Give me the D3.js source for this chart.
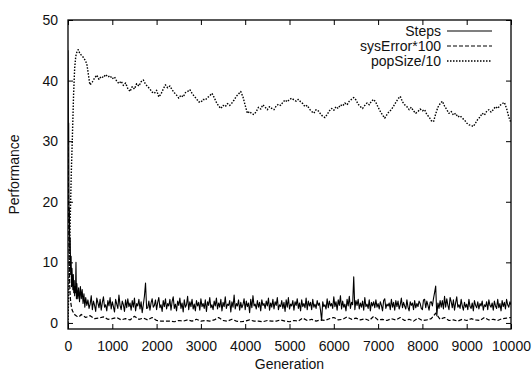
<!DOCTYPE html>
<html>
<head>
<meta charset="utf-8">
<script src="https://cdn.jsdelivr.net/npm/d3@7"></script>
<style>
  body { margin: 0; background: #fff; }
  text { font-family: "Liberation Sans", Arial, sans-serif; fill: #111; }
</style>
</head>
<body>
<div id="chart"></div>
<script>
// tick labels
const xTicks = [0, 1000, 2000, 3000, 4000, 5000, 6000, 7000, 8000, 9000, 10000]
const yTicks = [0, 10, 20, 30, 40, 50]

// Steps: dense start, then every 25 generations from 450
const stepsEarlyGen = [0, 5, 10, 15, 20, 25, 30, 40, 50, 60, 70, 80, 90, 100, 110, 120, 130, 140, 150, 160, 170, 180, 190, 200, 220, 240, 260, 280, 300, 320, 340, 360, 380, 400, 425]
const stepsEarly = [45, 38, 30, 33, 22, 17, 19, 12, 14, 8, 11, 6, 9, 7, 5.5, 8, 5, 7, 4.5, 6, 5, 10, 4, 6.5, 4, 5.8, 3.5, 6, 4, 5.5, 3.2, 4.8, 2.6, 4.2, 2.9]
const steps = [
  3.8, 2.4, 3.1, 4.5, 2.2, 3.6, 2.9, 1.9, 4.1, 3.3, 2.5, 3.9, 2.1, 3.4, 4.3, 2.6, 3.0, 2.0, 3.7, 2.8,
  4.2, 2.3, 3.5, 2.7, 1.8, 3.9, 3.1, 2.4, 4.6, 2.9, 2.2, 3.6, 3.0, 1.9, 3.8, 2.5, 4.0, 2.7, 3.3, 2.1,
  3.7, 2.6, 4.1, 2.0, 3.2, 2.8, 3.9, 2.3, 3.5, 1.7, 3.0, 4.4, 6.6, 2.4, 2.5, 3.6, 2.1, 3.3, 4.0, 2.6,
  2.9, 3.8, 2.2, 3.4, 4.2, 2.5, 3.0, 1.9, 3.7, 2.7, 4.0, 2.3, 3.2, 2.8, 3.9, 2.1, 3.5, 4.3, 2.4, 3.1,
  2.0, 3.6, 2.9, 4.1, 2.4, 3.3, 1.8, 3.8, 2.6, 3.0, 4.4, 2.2, 3.5, 2.7, 3.9, 2.3, 3.1, 2.0, 3.7, 2.8,
  3.4, 2.1, 4.0, 2.7, 3.2, 2.4, 3.8, 1.9, 3.5, 2.9, 4.2, 2.5, 3.0, 2.2, 3.6, 2.8, 4.1, 2.3, 3.3, 2.6,
  3.9, 2.0, 3.4, 2.7, 4.3, 2.4, 3.1, 2.9, 3.7, 1.8, 3.5, 2.6, 4.6, 2.3, 3.2, 2.8, 3.8, 2.1, 3.4, 2.5,
  3.0, 4.0, 2.2, 3.6, 2.7, 3.3, 1.7, 3.9, 2.5, 4.5, 2.8, 3.1, 2.3, 3.7, 2.6, 3.4, 2.0, 3.8, 2.9, 3.2,
  2.4, 3.6, 2.8, 4.1, 2.1, 3.3, 2.6, 3.9, 2.3, 3.5, 2.9, 4.2, 2.2, 3.0, 2.7, 3.7, 2.4, 3.4, 1.9, 3.8,
  2.6, 4.2, 2.3, 3.1, 2.8, 3.7, 2.1, 3.5, 2.9, 4.0, 2.4, 3.3, 2.0, 3.8, 2.7, 3.2, 2.5, 4.1, 2.2, 3.6,
  2.8, 3.4, 2.2, 3.9, 2.6, 3.1, 2.4, 3.7, 2.9, 3.3, 2.1, 0.4, 3.5, 2.7, 3.0, 2.3, 4.0, 2.5, 3.6, 2.8,
  3.2, 2.4, 4.3, 2.7, 3.5, 2.1, 3.8, 2.9, 4.5, 2.3, 3.6, 2.6, 3.1, 2.0, 3.9, 2.8, 4.4, 2.4, 3.4, 3.0,
  7.6, 2.2, 3.7, 2.9, 3.9, 2.3, 3.3, 2.6, 3.6, 2.1, 4.2, 2.7, 3.1, 2.4, 3.8, 2.0, 3.4, 2.8, 3.5, 2.5,
  3.8, 2.6, 3.2, 2.3, 3.5, 2.9, 2.0, 3.7, 4.0, 2.4, 3.1, 2.8, 3.3, 2.2, 3.9, 2.6, 3.4, 2.1, 3.7, 2.7,
  3.6, 2.3, 3.0, 4.1, 2.5, 3.4, 2.8, 2.3, 3.8, 2.6, 2.0, 3.5, 2.9, 3.3, 2.2, 3.7, 2.5, 3.2, 2.7, 3.6,
  3.2, 2.4, 2.2, 3.8, 3.9, 2.5, 3.6, 2.9, 2.1, 3.4, 3.5, 2.8, 4.0, 5.0, 6.1, 1.2, 3.3, 2.4, 3.7, 2.6,
  3.7, 2.3, 4.4, 2.6, 4.0, 2.9, 2.2, 4.2, 3.5, 2.5, 3.8, 2.1, 3.3, 4.3, 2.6, 3.0, 2.4, 3.9, 2.8, 2.1,
  3.4, 2.6, 3.1, 2.2, 3.9, 2.7, 2.4, 3.3, 2.0, 3.7, 2.9, 2.5, 3.5, 2.3, 3.2, 2.8, 3.6, 2.1, 3.0, 2.7,
  3.5, 2.2, 3.8, 2.9, 2.6, 3.3, 2.1, 3.6, 2.8, 2.4, 3.9, 2.5, 3.2, 2.0, 3.7, 2.7, 3.4, 2.3, 3.9, 3.0,
  2.6, 3.5, 3.0
]

// sysError*100: dense start, then every 100 generations from 300
const errEarlyGen = [0, 10, 20, 30, 40, 50, 60, 80, 100, 130, 160, 200, 250]
const errEarly = [33, 22, 14, 9, 6, 4.5, 3.5, 2.5, 2.0, 1.6, 1.3, 1.1, 1.0]
const sysError = [
  1.4, 0.9, 1.2, 0.7, 0.8, 1.0, 0.6, 0.7, 0.9, 0.5,
  0.7, 0.5, 1.1, 0.6, 0.8, 0.5, 0.9, 0.4, 0.3, 0.3,
  0.3, 0.2, 0.4, 0.3, 0.5, 0.3, 0.6, 0.3, 0.4, 0.3,
  0.5, 0.9, 0.4, 0.3, 0.6, 0.3, 0.2, 0.3, 0.5, 0.3,
  0.3, 0.2, 0.4, 0.3, 0.3, 0.5, 0.3, 0.2, 0.4, 0.3,
  0.8, 0.4, 0.6, 0.3, 0.5, 0.4, 0.7, 0.9, 0.5, 0.6,
  1.0, 0.6, 0.8, 0.5, 0.7, 0.4, 1.1, 0.5, 0.6, 0.4,
  0.7, 0.5, 0.9, 0.4, 0.6, 0.3, 0.8, 0.4, 0.5, 0.7,
  1.6, 0.6, 0.9, 0.4, 0.5, 0.3, 0.6, 0.4, 0.7, 0.5,
  0.4, 0.9, 0.5, 0.6, 0.4, 0.7, 0.8, 0.9
]

// popSize/10: ramp up, then every 50 generations from 500
const popEarlyGen = [0, 25, 50, 75, 100, 125, 150, 175, 200, 230, 260, 300, 350, 400, 430, 460, 490]
const popEarly = [0, 8, 17, 25, 31, 37.5, 42, 44, 44.7, 45.1, 44.6, 44.2, 43.8, 43.2, 42.5, 41, 39.5]
const popSize = [
  39.3, 39.8, 40.4, 40.9, 40.2, 40.7, 40.5, 41.0, 40.6, 40.8,
  40.3, 40.6, 39.9, 39.5, 39.9, 39.2, 39.6, 38.7, 38.2, 39.0,
  38.6, 39.5, 39.1, 39.8, 40.1, 39.4, 39.0, 38.6, 38.1, 37.9,
  38.4, 37.3, 37.8, 38.6, 39.3, 38.8, 39.1, 38.5, 38.0, 37.6,
  37.1, 37.6, 37.3, 38.0, 38.2, 38.5, 37.9, 37.4, 37.0, 36.5,
  36.4, 36.9, 36.8, 37.2, 37.5, 37.9, 37.2, 36.4, 35.8, 35.4,
  35.9, 35.7, 36.2, 35.9, 36.3, 36.8, 37.4, 37.8, 38.2, 37.3,
  35.9, 34.6, 34.9, 34.5, 34.4, 34.9, 35.6, 35.3, 36.0, 35.6,
  35.2, 35.7, 35.4, 35.2, 35.8, 36.1, 35.9, 36.4, 36.8, 36.5,
  36.9, 37.1, 36.8, 36.6, 36.9, 36.5, 36.2, 35.7, 35.9, 35.3,
  34.9, 34.6, 35.2, 35.0, 34.5, 34.1, 33.9, 34.4, 35.0, 35.4,
  35.1, 35.7, 35.4, 36.0, 35.8, 36.3, 36.0, 36.6, 36.9, 37.2,
  36.8, 36.1, 35.7, 35.4, 35.9, 36.3, 36.0, 36.6, 36.9, 36.4,
  35.6, 34.9, 34.3, 33.8, 34.4, 34.9, 35.2, 35.8, 36.4, 37.0,
  37.4, 36.5, 36.0, 35.7, 35.2, 35.6, 35.0, 34.6, 34.9, 35.3,
  35.0, 35.2, 34.4, 34.0, 33.4, 33.2, 34.5, 35.6, 36.2, 36.6,
  35.8, 35.2, 34.6, 34.9, 34.3, 34.6, 34.0, 34.2, 33.8, 33.5,
  33.0, 32.7, 32.6, 32.4, 33.0, 33.6, 34.0, 34.6, 34.3, 34.9,
  35.2, 34.8, 35.2, 35.7, 35.4, 35.9, 36.2, 36.4, 35.4, 34.0,
  33.0
]

const legendLabels = ['Steps', 'sysError*100', 'popSize/10']

const W = 532
const H = 371
const margin = { top: 20, right: 21, bottom: 42, left: 68 }
const width = W - margin.left - margin.right
const height = H - margin.top - margin.bottom

const svg = d3.select('#chart')
  .append('svg')
  .attr('width', W)
  .attr('height', H)

const g = svg.append('g')
  .attr('transform', 'translate(' + margin.left + ',' + margin.top + ')')

const xScale = d3.scaleLinear().domain([0, 10000]).range([0, width])
const yScale = d3.scaleLinear().domain([-1, 50]).range([height, 0])

// join the dense head of a series with its evenly spaced tail
const series = (headGen, headVal, tail, start, step) =>
  headGen.map((x, i) => ({ x: x, y: headVal[i] }))
    .concat(tail.map((v, i) => ({ x: start + i * step, y: v })))

const stepsData = series(stepsEarlyGen, stepsEarly, steps, 450, 25)
const errData = series(errEarlyGen, errEarly, sysError, 300, 100)
const popData = series(popEarlyGen, popEarly, popSize, 500, 50)

const lnFunc = d3.line()
  .x(d => xScale(d.x))
  .y(d => yScale(d.y))

const styles = [
  { dash: null, w: 1.1 },
  { dash: '4,2', w: 1.2 },
  { dash: '1.5,1.5', w: 1.4 }
]

svg.append('clipPath').attr('id', 'clip')
  .append('rect').attr('width', width).attr('height', height)

const plot = g.append('g').attr('clip-path', 'url(#clip)')
;[stepsData, errData, popData].forEach((d, i) => {
  plot.append('path')
    .datum(d)
    .attr('d', lnFunc)
    .attr('fill', 'none')
    .attr('stroke', '#000')
    .attr('stroke-width', styles[i].w)
    .attr('stroke-dasharray', styles[i].dash)
    .attr('stroke-linejoin', 'round')
})

// axes: gnuplot style, ticks inside on all four sides
const tickLen = 5
const fmt = d3.format('d')
const xAxis = g.append('g')
  .attr('transform', 'translate(0,' + height + ')')
  .call(d3.axisBottom(xScale).tickValues(xTicks).tickFormat(fmt).tickSizeInner(-tickLen).tickSizeOuter(0).tickPadding(12))
const xTop = g.append('g')
  .call(d3.axisTop(xScale).tickValues(xTicks).tickSizeInner(-tickLen).tickSizeOuter(0).tickFormat(''))
const yAxis = g.append('g')
  .call(d3.axisLeft(yScale).tickValues(yTicks).tickFormat(fmt).tickSizeInner(-tickLen).tickSizeOuter(0).tickPadding(10))
const yRight = g.append('g')
  .attr('transform', 'translate(' + width + ',0)')
  .call(d3.axisRight(yScale).tickValues(yTicks).tickSizeInner(-tickLen).tickSizeOuter(0).tickFormat(''))

;[xAxis, xTop, yAxis, yRight].forEach(a => {
  a.select('.domain').remove()
  a.selectAll('line').attr('stroke', '#000').attr('stroke-width', 1)
  a.selectAll('text')
    .style('font-family', '"Liberation Sans", Arial, sans-serif')
    .style('font-size', '14px')
    .attr('fill', '#111')
})

g.append('rect')
  .attr('width', width)
  .attr('height', height)
  .attr('fill', 'none')
  .attr('stroke', '#000')
  .attr('stroke-width', 1.3)

// legend, top right
const legend = g.append('g').attr('transform', 'translate(' + (width - 70) + ',11)')
legendLabels.forEach((lab, i) => {
  const row = legend.append('g').attr('transform', 'translate(0,' + (i * 15) + ')')
  row.append('text')
    .attr('x', 0)
    .attr('y', 5)
    .attr('text-anchor', 'end')
    .style('font-size', '14px')
    .text(lab)
  row.append('line')
    .attr('x1', 6)
    .attr('x2', 51)
    .attr('stroke', '#000')
    .attr('stroke-width', styles[i].w)
    .attr('stroke-dasharray', styles[i].dash)
})

// axis titles
svg.append('text')
  .attr('x', margin.left + width / 2)
  .attr('y', 369)
  .attr('text-anchor', 'middle')
  .style('font-size', '14px')
  .text('Generation')

svg.append('text')
  .attr('transform', 'translate(19,' + (margin.top + height / 2) + ') rotate(-90)')
  .attr('text-anchor', 'middle')
  .style('font-size', '14px')
  .text('Performance')
</script>
</body>
</html>
